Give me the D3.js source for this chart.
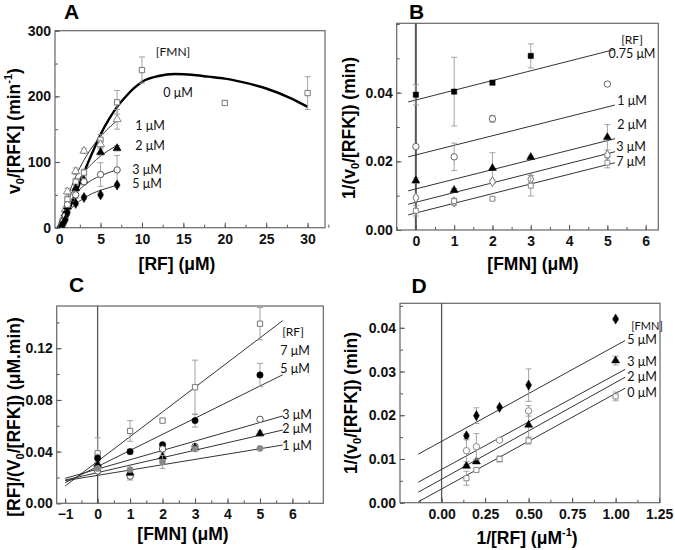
<!DOCTYPE html>
<html><head><meta charset="utf-8">
<script src="https://cdn.jsdelivr.net/npm/d3@7"></script>
<style>
body{margin:0;background:#fff;}
svg{display:block;}
</style></head>
<body>
<svg id="c" width="675" height="550"></svg>
<script>
// ---------------- DATA ----------------
// Panel A : v0/[RFK] vs [RF] at several [FMN]
const A_labels = ["0 μM","1 μM","2 μM","3 μM","5 μM"];
const A_x0 = [0.25,0.5,0.75,1,2,3,5,7,10,20,30];
const A_y0 = [3,12,20,43,70,84,134,191,240,190,205];
const A_e0 = [2,3,4,5,5,5,8,18,20,3,25];
const A_x = [0.25,0.5,0.75,1,2,3,5,7];
const A_y1 = [5,15,28,55,86,117,127,165];
const A_e1 = [2,4,4,5,5,4,5,15];
const A_y2 = [4,12,22,32,60,72,115,121];
const A_e2 = [2,3,3,4,5,5,5,4];
const A_y3 = [3,10,18,35,50,70,81,88];
const A_e3 = [2,3,3,4,5,5,18,22];
const A_y5 = [2,6,12,23,37,46,50,65];
const A_e5 = [1,2,2,3,3,3,3,3];
// fitted curves
const A_fit0x = [0,1,2,3,4,5,6,7,8,9,10,12,14,16,18,20,22,25,28,30];
const A_fit0y = [0,22,52,84,114,142,165,184,199,212,222,231,234,233,230,227,222,212,197,184];
const A_fitx = [0,1,2,3,4,5,6,7];
const A_fit1 = [0,45,78,103,123,139,152,163];
const A_fit2 = [0,38,65,84,98,109,118,125];
const A_fit3 = [0,32,52,64,73,79,84,88];
const A_fit5 = [0,22,36,45,52,57,61,65];

// Panel B : 1/(v0/[RFK]) vs [FMN] at several [RF]
const B_labels = ["0.75 μM","1 μM","2 μM","3 μM","7 μM"];
const B_x075 = [0,1,2,3];      const B_y075 = [0.0394,0.0403,0.0429,0.0507]; const B_e075 = [0.003,0.010,0.0005,0.0035];
const B_x1 = [0,1,2,5];        const B_y1 = [0.0243,0.0213,0.0324,0.0425];   const B_e1 = [0.0005,0.004,0.001,0.0005];
const B_x = [0,1,2,3,5];
const B_y2 = [0.0144,0.0116,0.0180,0.0212,0.0270]; const B_e2 = [0.0008,0.0005,0.0045,0.0003,0.0037];
const B_y3 = [0.0094,0.0082,0.0141,0.0148,0.0218]; const B_e3 = [0.0005,0.001,0.0005,0.001,0.0005];
const B_y7 = [0.0056,0.0084,0.0091,0.0129,0.0196]; const B_e7 = [0.0015,0.0008,0.0003,0.003,0.0015];
const B_lineX = [-0.2,5.2];
const B_line075 = [0.0373,0.0526];
const B_line1 = [0.0213,0.0364];
const B_line2 = [0.0114,0.0266];
const B_line3 = [0.0075,0.0228];
const B_line7 = [0.0044,0.0196];

// Panel C : [RF]/(v0/[RFK]) vs [FMN]
const C_labels = ["7 μM","5 μM","3 μM","2 μM","1 μM"];
const C_x = [0,1,2,3,5];
const C_y7 = [0.0387,0.056,0.064,0.0898,0.139];  const C_e7 = [0.012,0.008,0.001,0.021,0.0125];
const C_y5 = [0.035,0.040,0.0453,0.064,0.0993];  const C_e5 = [0.003,0.002,0.001,0.005,0.009];
const C_y3 = [0.025,0.021,0.042,0.044,0.065];    const C_e3 = [0.002,0.003,0.001,0.001,0.001];
const C_y2 = [0.030,0.0236,0.036,0.043,0.054];   const C_e2 = [0.002,0.002,0.003,0.001,0.002];
const C_y1 = [0.027,0.026,0.032,0.042,0.0425];   const C_e1 = [0.001,0.001,0.005,0.001,0.001];
const C_lineX = [-1,5.7];
const C_line7 = [0.0134,0.1414];
const C_line5 = [0.0160,0.0995];
const C_line3 = [0.0193,0.0676];
const C_line2 = [0.0180,0.0567];
const C_line1 = [0.0175,0.0451];

// Panel D : 1/(v0/[RFK]) vs 1/[RF]
const D_labels = ["5 μM","3 μM","2 μM","0 μM"];
const D_x5 = [1/7,1/5,1/3,1/2,1]; const D_y5 = [0.0153,0.0199,0.0218,0.0269,0.0420]; const D_e5 = [0.0005,0.0018,0.0003,0.0037,0.0003];
const D_x3 = [1/7,1/5,1/2,1];     const D_y3 = [0.0084,0.0094,0.0178,0.0325];        const D_e3 = [0.0003,0.0004,0.0035,0.001];
const D_x2 = [1/7,1/5,1/3,1/2];   const D_y2 = [0.0119,0.0128,0.0143,0.0210];        const D_e2 = [0.0025,0.003,0.0003,0.0012];
const D_x0 = [1/7,1/5,1/3,1/2,1]; const D_y0 = [0.0056,0.0075,0.0100,0.0142,0.0243]; const D_e0 = [0.0016,0.0003,0.0007,0.0008,0.001];
const D_lineX = [-0.134,1.055];
const D_line5 = [0.0111,0.0371];
const D_line3 = [0.0047,0.0305];
const D_line2 = [0.0024,0.0287];
const D_line0 = [0.0002,0.0262];

// tick values
const A_xt = [0,5,10,15,20,25,30], A_yt = [0,100,200,300];
const B_xt = [0,1,2,3,4,5,6],      B_yt = [0,0.02,0.04];
const C_xt = [-1,0,1,2,3,4,5,6],   C_yt = [0,0.04,0.08,0.12];
const D_xt = [0,0.25,0.5,0.75,1,1.25], D_yt = [0,0.01,0.02,0.03,0.04];

// ---------------- DRAW ----------------
const svg = d3.select("#c");
const FONT = "'Liberation Sans', Arial, sans-serif";
const LFONT = "Lato, 'Open Sans', sans-serif";
const TICKFS = 14, TITLEFS = 17.5;
const zip = (xs, ys, es) => xs.map((x,i)=>({x, y: ys[i], e: es ? es[i] : 0}));
const SYM = {square:d3.symbolSquare, triangle:d3.symbolTriangle, circle:d3.symbolCircle, diamond:d3.symbolDiamond};

function panel(cfg){
  const g = svg.append("g");
  const x = d3.scaleLinear().domain(cfg.xd).range([cfg.l, cfg.r]);
  const y = d3.scaleLinear().domain(cfg.yd).range([cfg.b, cfg.t]);
  const clipId = "clip"+cfg.name;
  svg.append("clipPath").attr("id",clipId).append("rect")
     .attr("x",cfg.l).attr("y",cfg.t).attr("width",cfg.r-cfg.l).attr("height",cfg.b-cfg.t);

  // minor ticks
  const xa = d3.axisBottom(x).tickValues(cfg.xminor).tickSize(-3).tickFormat("");
  g.append("g").attr("transform",`translate(0,${cfg.b})`).call(xa).call(s=>{s.select(".domain").remove(); s.selectAll("line").attr("stroke","#555");});
  const ya = d3.axisLeft(y).tickValues(cfg.yminor).tickSize(-3).tickFormat("");
  g.append("g").attr("transform",`translate(${cfg.l},0)`).call(ya).call(s=>{s.select(".domain").remove(); s.selectAll("line").attr("stroke","#555");});
  // major ticks
  const xM = d3.axisBottom(x).tickValues(cfg.xt).tickSize(-5).tickPadding(6).tickFormat(cfg.xf);
  g.append("g").attr("transform",`translate(0,${cfg.b})`).call(xM).call(s=>{
    s.select(".domain").remove(); s.selectAll("line").attr("stroke","#555");
    s.selectAll("text").attr("font-family",FONT).attr("font-weight","bold").attr("font-size",TICKFS).attr("fill","#111");
  });
  const yM = d3.axisLeft(y).tickValues(cfg.yt).tickSize(-5).tickPadding(4).tickFormat(cfg.yf);
  g.append("g").attr("transform",`translate(${cfg.l},0)`).call(yM).call(s=>{
    s.select(".domain").remove(); s.selectAll("line").attr("stroke","#555");
    s.selectAll("text").attr("font-family",FONT).attr("font-weight","bold").attr("font-size",TICKFS).attr("fill","#111");
  });
  // frame
  g.append("rect").attr("x",cfg.l).attr("y",cfg.t).attr("width",cfg.r-cfg.l).attr("height",cfg.b-cfg.t)
   .attr("fill","none").attr("stroke","#666").attr("stroke-width",1.2);
  // zero line
  if (cfg.zero){
    g.append("line").attr("x1",x(0)).attr("x2",x(0)).attr("y1",cfg.t).attr("y2",cfg.b)
     .attr("stroke","#555").attr("stroke-width",cfg.zeroW||1.5);
  }
  const pg = g.append("g").attr("clip-path",`url(#${clipId})`);
  // lines
  const lineGen = d3.line().x(d=>x(d[0])).y(d=>y(d[1]));
  (cfg.lines||[]).forEach(L=>{
    const pts = L.xs.map((v,i)=>[v, L.ys[i]]);
    pg.append("path").attr("d", (L.curve? lineGen.curve(d3.curveMonotoneX) : lineGen.curve(d3.curveLinear))(pts))
      .attr("fill","none").attr("stroke",L.color||"#333").attr("stroke-width",L.w||1);
  });
  // error bars + markers
  (cfg.series||[]).forEach(S=>{
    const pts = S.data;
    pts.forEach(p=>{
      if (p.e > 0){
        const x0 = x(p.x), y1 = y(p.y - p.e), y2 = y(p.y + p.e);
        pg.append("line").attr("x1",x0).attr("x2",x0).attr("y1",y1).attr("y2",y2).attr("stroke","#999").attr("stroke-width",0.9);
        [y1,y2].forEach(yy=>pg.append("line").attr("x1",x0-3).attr("x2",x0+3).attr("y1",yy).attr("y2",yy).attr("stroke","#999").attr("stroke-width",0.9));
      }
    });
    pts.forEach(p=>{
      pg.append("path").attr("d", d3.symbol().type(SYM[S.shape]).size(S.size||28)())
        .attr("transform",`translate(${x(p.x)},${y(p.y)})`)
        .attr("fill", S.filled ? (S.color||"#000") : "#fff")
        .attr("stroke", S.color||"#000").attr("stroke-width", S.filled?0.5:1);
    });
  });
  // text labels
  (cfg.labels||[]).forEach(t=>{
    g.append("text").attr("x",t.x).attr("y",t.y).text(t.text)
     .attr("font-family",LFONT).attr("font-size",t.fs||12.5).attr("fill","#111").attr("text-anchor",t.anchor||"start")
     .attr("dominant-baseline","middle");
  });
  // panel letter
  g.append("text").attr("x",cfg.letter[1]).attr("y",cfg.letter[2]).text(cfg.letter[0])
   .attr("font-family",FONT).attr("font-weight","bold").attr("font-size",21).attr("text-anchor","middle").attr("dominant-baseline","middle");
  // x title
  const xt = g.append("text").attr("x",cfg.xtitle.x).attr("y",cfg.xtitle.y).attr("text-anchor","middle")
     .attr("font-family",FONT).attr("font-weight","bold").attr("font-size",TITLEFS).attr("dominant-baseline","middle");
  cfg.xtitle.parts.forEach(pp=>{ const ts = xt.append("tspan").text(pp[0]); if(pp[1]) ts.attr("baseline-shift",pp[1]).attr("font-size",11); });
  const yt = g.append("text").attr("transform",`translate(${cfg.ytitle.x},${cfg.ytitle.y}) rotate(-90)`).attr("text-anchor","middle")
     .attr("font-family",FONT).attr("font-weight","bold").attr("font-size",TITLEFS).attr("dominant-baseline","middle");
  cfg.ytitle.parts.forEach(pp=>{ const ts = yt.append("tspan").text(pp[0]); if(pp[1]) ts.attr("baseline-shift",pp[1]).attr("font-size",11); });
}
const rng = (a,b,s)=>d3.range(a,b+s/2,s);

// Panel A
panel({name:"A", l:55, r:325, t:30.7, b:227.7, xd:[-0.5,32.1], yd:[0,300],
  xt:A_xt, yt:A_yt, xminor:rng(0,32,2.5), yminor:rng(0,300,50), xf:d3.format("d"), yf:d3.format("d"),
  letter:["A",71.5,13.5],
  xtitle:{x:177,y:265,parts:[["[RF] (μM)"]]},
  ytitle:{x:15,y:131,parts:[["v"],["0","sub"],["/[RFK] (min"],["-1","super"],[")"]]},
  lines:[
    {xs:A_fit0x, ys:A_fit0y, curve:true, w:2.4, color:"#000"},
    {xs:A_fitx, ys:A_fit1, curve:true, w:1, color:"#333"},
    {xs:A_fitx, ys:A_fit2, curve:true, w:1, color:"#333"},
    {xs:A_fitx, ys:A_fit3, curve:true, w:1, color:"#333"},
    {xs:A_fitx, ys:A_fit5, curve:true, w:1, color:"#333"}
  ],
  series:[
    {data:zip(A_x0,A_y0,A_e0), shape:"square", filled:false, color:"#777"},
    {data:zip(A_x,A_y1,A_e1), shape:"triangle", filled:false, color:"#888"},
    {data:zip(A_x,A_y2,A_e2), shape:"triangle", filled:true, color:"#000"},
    {data:zip(A_x,A_y3,A_e3), shape:"circle", filled:false, color:"#555", size:32},
    {data:zip(A_x,A_y5,A_e5), shape:"diamond", filled:true, color:"#000", size:30}
  ],
  labels:[
    {text:"[FMN]", x:173, y:53, anchor:"middle", fs:12},
    {text:A_labels[0], x:178, y:94, anchor:"middle"},
    {text:A_labels[1], x:150, y:127, anchor:"middle"},
    {text:A_labels[2], x:150, y:147, anchor:"middle"},
    {text:A_labels[3], x:147, y:171, anchor:"middle"},
    {text:A_labels[4], x:147, y:185, anchor:"middle"}
  ]
});

// Panel B
panel({name:"B", l:396.7, r:658.3, t:23.3, b:230, xd:[-0.5,6.33], yd:[0,0.0602],
  xt:B_xt, yt:B_yt, xminor:rng(-0.5,6,0.5), yminor:rng(0,0.06,0.01), xf:d3.format("d"), yf:d3.format(".2f"),
  letter:["B",416.5,13.5], zero:true, zeroW:2,
  xtitle:{x:533,y:265,parts:[["[FMN] (μM)"]]},
  ytitle:{x:350,y:128,parts:[["1/(v"],["0","sub"],["/[RFK]) (min)"]]},
  lines:[
    {xs:B_lineX, ys:B_line075},{xs:B_lineX, ys:B_line1},{xs:B_lineX, ys:B_line2},
    {xs:B_lineX, ys:B_line3},{xs:B_lineX, ys:B_line7}
  ],
  series:[
    {data:zip(B_x075,B_y075,B_e075), shape:"square", filled:true, color:"#000"},
    {data:zip(B_x1,B_y1,B_e1), shape:"circle", filled:false, color:"#666", size:32},
    {data:zip(B_x,B_y2,B_e2), shape:"triangle", filled:true, color:"#000"},
    {data:zip(B_x,B_y3,B_e3), shape:"diamond", filled:false, color:"#777", size:30},
    {data:zip(B_x,B_y7,B_e7), shape:"square", filled:false, color:"#888", size:24}
  ],
  labels:[
    {text:"[RF]", x:632, y:41, anchor:"middle", fs:12},
    {text:B_labels[0], x:632, y:55, anchor:"middle"},
    {text:B_labels[1], x:632, y:102, anchor:"middle"},
    {text:B_labels[2], x:632, y:126, anchor:"middle"},
    {text:B_labels[3], x:631, y:148, anchor:"middle"},
    {text:B_labels[4], x:631, y:163, anchor:"middle"}
  ]
});

// Panel C
panel({name:"C", l:56.7, r:323.3, t:306, b:503.3, xd:[-1.26,6.95], yd:[0,0.1527],
  xt:C_xt, yt:C_yt, xminor:rng(-1,6.5,0.5), yminor:rng(0,0.14,0.02), xf:d3.format("d"), yf:d3.format(".2f"),
  letter:["C",76.5,286], zero:true, zeroW:1.3,
  xtitle:{x:183,y:535,parts:[["[FMN] (μM)"]]},
  ytitle:{x:15,y:417,parts:[["[RF]/(V"],["0","sub"],["/[RFK]) (μM.min)"]]},
  lines:[
    {xs:C_lineX, ys:C_line7},{xs:C_lineX, ys:C_line5},{xs:C_lineX, ys:C_line3},
    {xs:C_lineX, ys:C_line2},{xs:C_lineX, ys:C_line1}
  ],
  series:[
    {data:zip(C_x,C_y7,C_e7), shape:"square", filled:false, color:"#777"},
    {data:zip(C_x,C_y5,C_e5), shape:"circle", filled:true, color:"#000", size:32},
    {data:zip(C_x,C_y3,C_e3), shape:"circle", filled:false, color:"#555", size:32},
    {data:zip(C_x,C_y2,C_e2), shape:"triangle", filled:true, color:"#000"},
    {data:zip(C_x,C_y1,C_e1), shape:"circle", filled:true, color:"#888", size:30}
  ],
  labels:[
    {text:"[RF]", x:293, y:333, anchor:"middle", fs:12},
    {text:C_labels[0], x:295, y:352, anchor:"middle"},
    {text:C_labels[1], x:295, y:370, anchor:"middle"},
    {text:C_labels[2], x:297, y:416, anchor:"middle"},
    {text:C_labels[3], x:297, y:430, anchor:"middle"},
    {text:C_labels[4], x:297, y:447, anchor:"middle"}
  ]
});

// Panel D
panel({name:"D", l:400, r:660, t:303.3, b:502.7, xd:[-0.239,1.255], yd:[0,0.0456],
  xt:D_xt, yt:D_yt, xminor:rng(-0.125,1.25,0.125), yminor:rng(0,0.045,0.005), xf:d3.format(".2f"), yf:d3.format(".2f"),
  letter:["D",419,287], zero:true, zeroW:1.3,
  xtitle:{x:527,y:539,parts:[["1/[RF] (μM"],["-1","super"],[")"]]},
  ytitle:{x:352,y:403,parts:[["1/(v"],["0","sub"],["/[RFK]) (min)"]]},
  lines:[
    {xs:D_lineX, ys:D_line5},{xs:D_lineX, ys:D_line3},{xs:D_lineX, ys:D_line2},{xs:D_lineX, ys:D_line0}
  ],
  series:[
    {data:zip(D_x5,D_y5,D_e5), shape:"diamond", filled:true, color:"#000", size:30},
    {data:zip(D_x3,D_y3,D_e3), shape:"triangle", filled:true, color:"#000"},
    {data:zip(D_x2,D_y2,D_e2), shape:"circle", filled:false, color:"#888", size:32},
    {data:zip(D_x0,D_y0,D_e0), shape:"square", filled:false, color:"#888", size:26}
  ],
  labels:[
    {text:"[FMN]", x:647, y:327, anchor:"middle", fs:11},
    {text:D_labels[0], x:642, y:341, anchor:"middle"},
    {text:D_labels[1], x:642, y:363, anchor:"middle"},
    {text:D_labels[2], x:642, y:378, anchor:"middle"},
    {text:D_labels[3], x:642, y:394, anchor:"middle"}
  ]
});
</script>
</body></html>
